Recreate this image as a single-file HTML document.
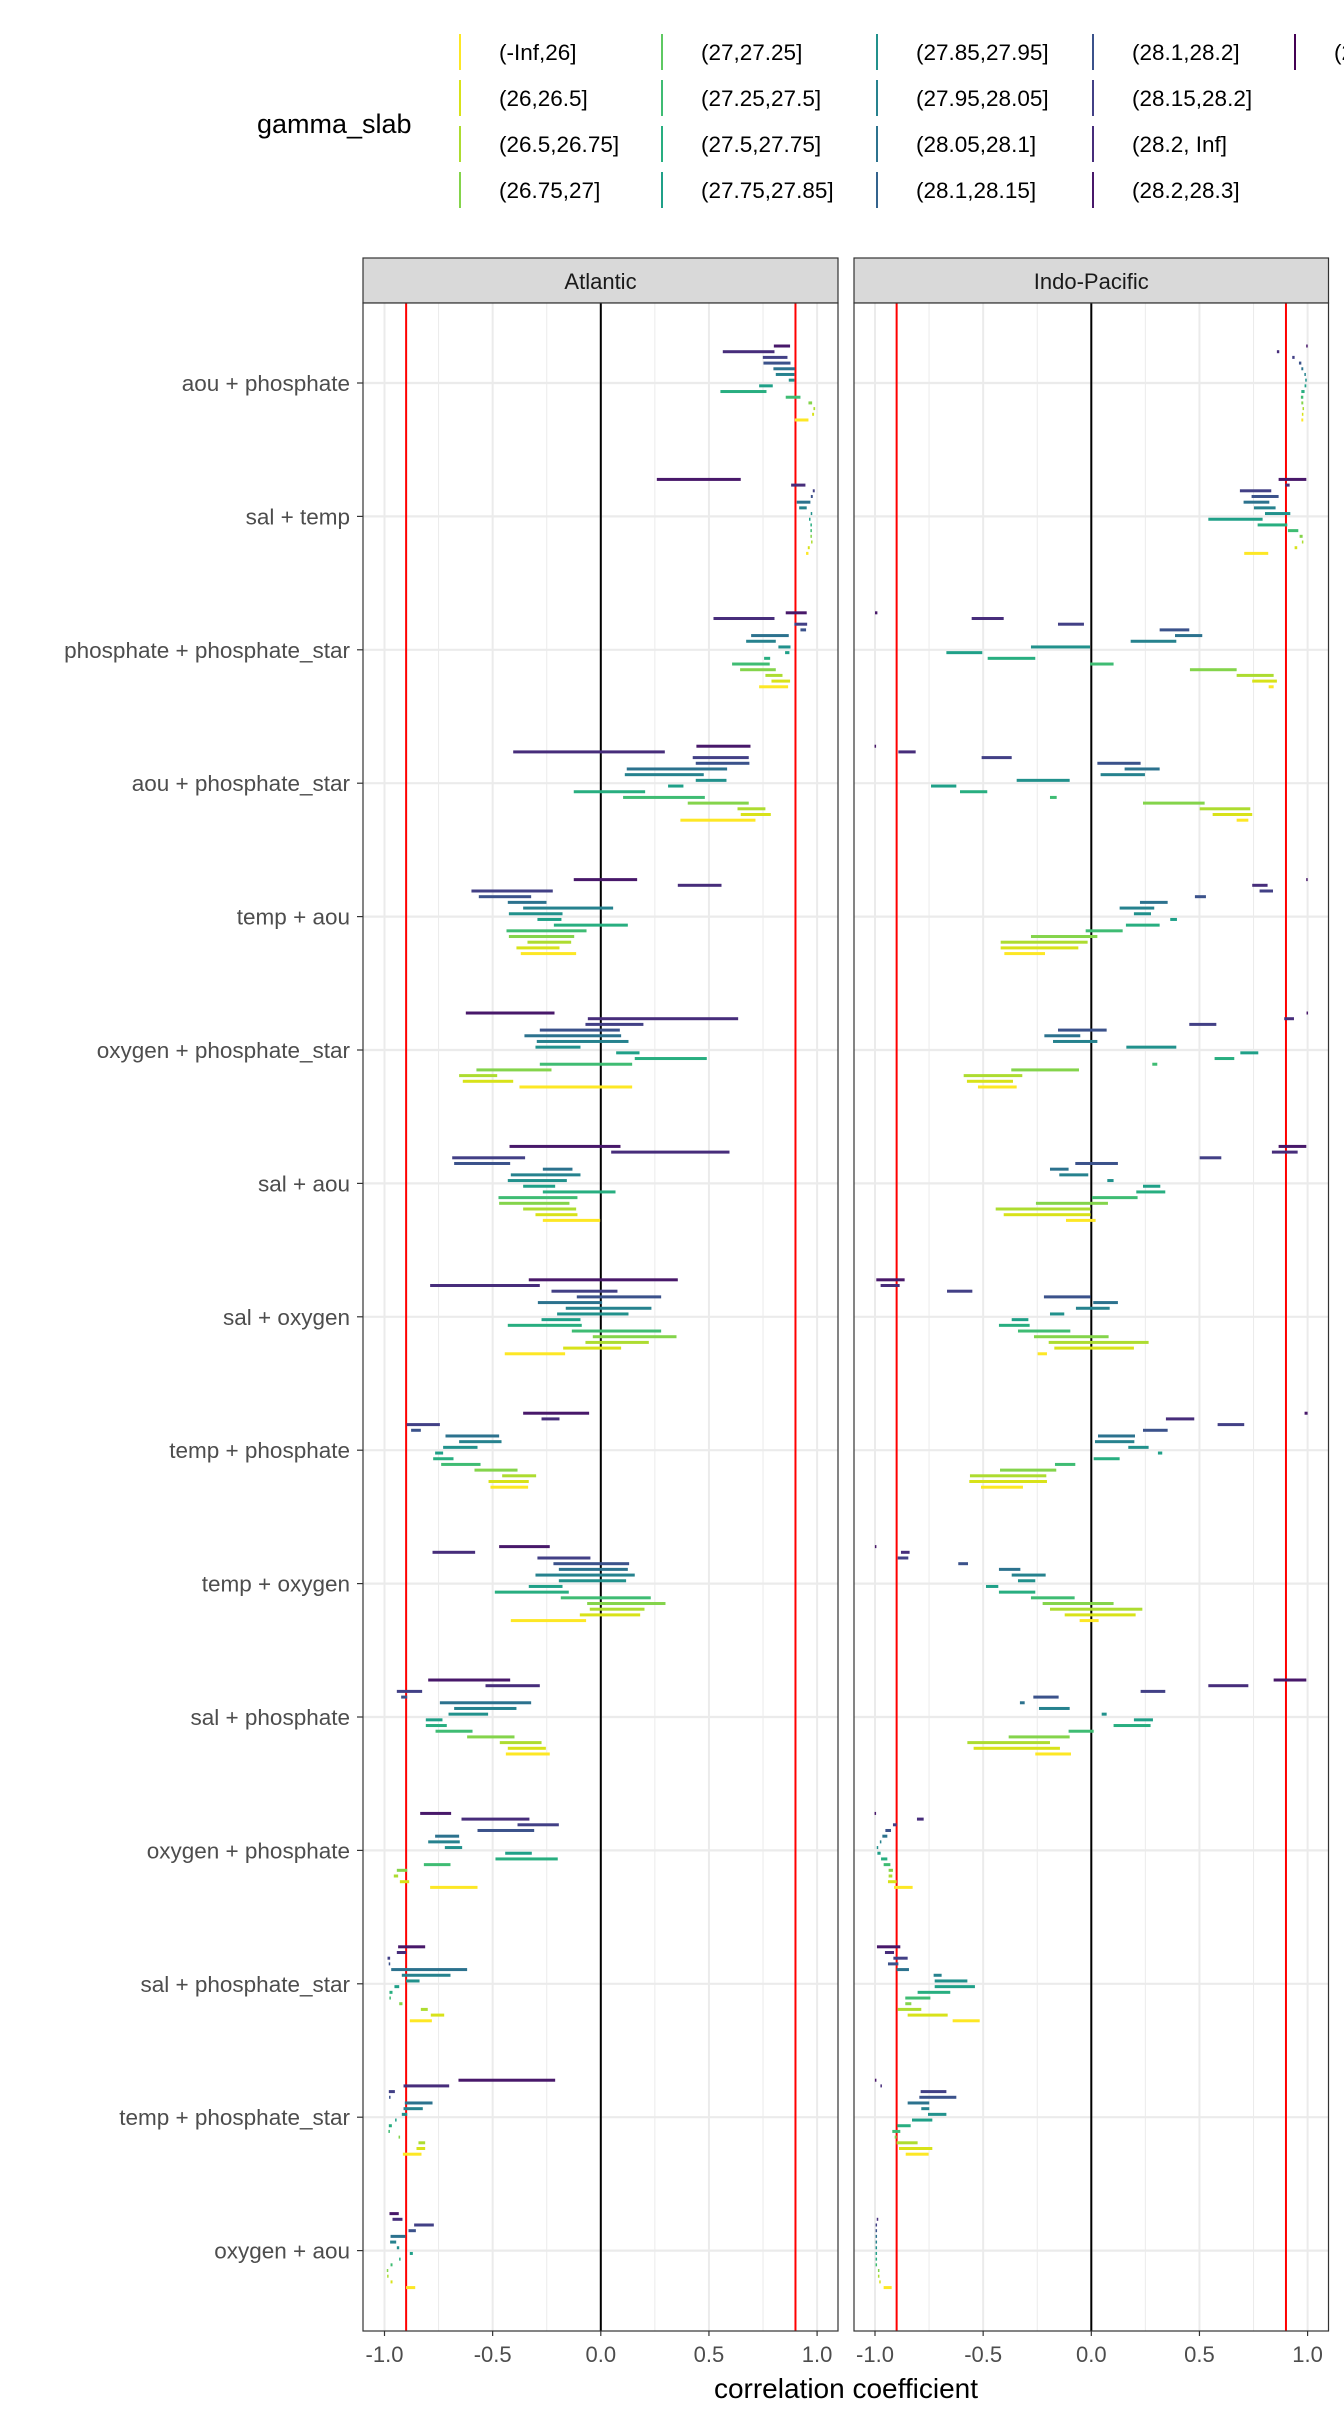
<!DOCTYPE html>
<html><head><meta charset="utf-8"><style>
html,body{margin:0;padding:0;background:#fff;}
svg{display:block;font-family:"Liberation Sans",Arial,sans-serif;}
</style></head><body>
<svg id="chart" width="1344" height="2419" viewBox="0 0 1344 2419" xmlns="http://www.w3.org/2000/svg"></svg>
<script>
const categories = ["aou + phosphate","sal + temp","phosphate + phosphate_star","aou + phosphate_star","temp + aou","oxygen + phosphate_star","sal + aou","sal + oxygen","temp + phosphate","temp + oxygen","sal + phosphate","oxygen + phosphate","sal + phosphate_star","temp + phosphate_star","oxygen + aou"];
const facets = ["Atlantic","Indo-Pacific"];
const xTicks = [-1,-0.5,0,0.5,1];
const xTickLabels = ["-1.0","-0.5","0.0","0.5","1.0"];
const refLines = [-0.9,0.9];
const legendLabels = ["(-Inf,26]","(26,26.5]","(26.5,26.75]","(26.75,27]","(27,27.25]","(27.25,27.5]","(27.5,27.75]","(27.75,27.85]","(27.85,27.95]","(27.95,28.05]","(28.05,28.1]","(28.1,28.15]","(28.1,28.2]","(28.15,28.2]","(28.2, Inf]","(28.2,28.3]","(28.3, Inf]"];
const viridis = ["#440154","#48186a","#472d7b","#424086","#3b528b","#33638d","#2c728e","#26828e","#21918c","#1fa088","#28ae80","#3fbc73","#5ec962","#84d44b","#addc30","#d8e219","#fde725"];
// ranges per category, rows listed top (darkest slab) to bottom (lightest slab)
const atlantic = [
[[.80,.875],[.564,.803],[.749,.863],[.752,.877],[.798,.897],[.809,.895],[.869,.895],[.732,.795],[.553,.766],[.855,.923],[.96,.977],[.983,.991],[.977,.986],[.897,.96]],
[[.259,.647],[.88,.946],[.98,.989],[.971,.98],[.906,.969],[.917,.952],[.971,.977],[.963,.969],[.971,.974],[.971,.974],[.971,.974],[.974,.977],[.957,.966],[.949,.96]],
[[.855,.952],[.521,.803],[.895,.954],[.923,.949],[.695,.869],[.672,.809],[.821,.877],[.852,.872],[.755,.783],[.607,.781],[.644,.809],[.761,.84],[.789,.875],[.732,.866]],
[[.442,.692],[-.405,.296],[.425,.684],[.439,.687],[.12,.584],[.111,.476],[.439,.581],[.311,.382],[-.125,.205],[.103,.481],[.402,.684],[.632,.761],[.647,.786],[.368,.715]],
[[-.125,.168],[.356,.558],[-.598,-.222],[-.564,-.322],[-.43,-.251],[-.359,.057],[-.425,-.177],[-.293,-.182],[-.217,.125],[-.436,-.066],[-.425,-.123],[-.339,-.137],[-.39,-.191],[-.37,-.114]],
[[-.624,-.214],[-.06,.635],[-.071,.197],[-.282,.088],[-.353,.094],[-.296,.128],[-.302,-.094],[.071,.179],[.157,.49],[-.282,.145],[-.575,-.228],[-.655,-.479],[-.638,-.405],[-.376,.145]],
[[-.422,.091],[.048,.595],[-.687,-.35],[-.678,-.419],[-.268,-.131],[-.416,-.094],[-.43,-.157],[-.359,-.211],[-.268,.068],[-.473,-.108],[-.47,-.145],[-.359,-.114],[-.302,-.108],[-.268,-.003]],
[[-.333,.356],[-.789,-.282],[-.228,.077],[-.111,.279],[-.291,.006],[-.162,.234],[-.202,.128],[-.274,-.094],[-.43,-.088],[-.134,.279],[-.037,.35],[-.071,.222],[-.174,.094],[-.444,-.165]],
[[-.359,-.054],[-.274,-.191],[-.897,-.744],[-.877,-.832],[-.718,-.47],[-.655,-.459],[-.729,-.57],[-.766,-.729],[-.775,-.681],[-.738,-.556],[-.584,-.385],[-.456,-.299],[-.519,-.333],[-.51,-.336]],
[[-.47,-.236],[-.778,-.581],[-.293,-.048],[-.219,.131],[-.194,.125],[-.302,.157],[-.194,.117],[-.333,-.177],[-.49,-.148],[-.185,.231],[-.063,.299],[-.051,.202],[-.097,.182],[-.416,-.068]],
[[-.798,-.419],[-.533,-.282],[-.943,-.826],[-.923,-.895],[-.744,-.322],[-.678,-.39],[-.704,-.521],[-.809,-.732],[-.809,-.712],[-.764,-.593],[-.618,-.399],[-.467,-.274],[-.43,-.254],[-.439,-.236]],
[[-.835,-.692],[-.644,-.33],[-.385,-.194],[-.57,-.308],[-.766,-.655],[-.798,-.652],[-.721,-.641],[-.442,-.319],[-.487,-.199],[-.818,-.695],[-.943,-.895],[-.957,-.937],[-.929,-.886],[-.789,-.57]],
[[-.937,-.812],[-.943,-.9],[-.986,-.974],[-.98,-.974],[-.969,-.618],[-.92,-.695],[-.9,-.838],[-.954,-.932],[-.977,-.963],[-.977,-.971],[-.932,-.917],[-.832,-.8],[-.786,-.724],[-.883,-.781]],
[[-.658,-.211],[-.912,-.701],[-.98,-.952],[-.977,-.974],[-.906,-.778],[-.912,-.823],[-.92,-.895],[-.949,-.946],[-.98,-.966],[-.98,-.977],[-.934,-.929],[-.843,-.812],[-.852,-.812],[-.915,-.829]],
[[-.977,-.934],[-.963,-.917],[-.863,-.772],[-.889,-.855],[-.972,-.903],[-.974,-.946],[-.943,-.932],[-.883,-.869],[-.932,-.926],[-.972,-.963],[-.989,-.983],[-.986,-.983],[-.972,-.963],[-.9,-.858]]
];
const indoPacific = [
[[.994,1],[.858,.869],[.929,.94],[.96,.971],[.971,.98],[.986,.991],[.991,.994],[.986,.994],[.971,.986],[.969,.98],[.971,.98],[.977,.983],[.974,.98],[.971,.98]],
[[.866,.994],[.897,.917],[.687,.832],[.741,.866],[.704,.823],[.752,.852],[.803,.92],[.541,.792],[.769,.906],[.909,.957],[.963,.977],[.974,.98],[.94,.952],[.707,.818]],
[[-1,-.989],[-.553,-.405],[-.154,-.034],[.316,.453],[.387,.513],[.182,.393],[-.279,-.006],[-.67,-.504],[-.479,-.259],[-.006,.103],[.456,.672],[.672,.843],[.744,.858],[.82,.843]],
[[-1,-.997],[-.892,-.812],[-.507,-.368],[.028,.228],[.154,.316],[.043,.248],[-.345,-.1],[-.741,-.624],[-.607,-.481],[-.191,-.16],[.239,.524],[.501,.735],[.561,.744],[.672,.726]],
[[.994,1],[.744,.815],[.778,.84],[.479,.53],[.225,.353],[.131,.291],[.197,.276],[.365,.396],[.16,.316],[-.026,.145],[-.279,.028],[-.419,-.017],[-.419,-.06],[-.402,-.214]],
[[.997,1],[.892,.937],[.453,.578],[-.154,.071],[-.217,-.051],[-.177,.028],[.162,.393],[.689,.772],[.57,.661],[.282,.305],[-.37,-.057],[-.59,-.319],[-.575,-.362],[-.524,-.345]],
[[.866,.994],[.835,.954],[.501,.601],[-.074,.123],[-.191,-.105],[-.148,-.014],[.074,.103],[.239,.319],[.208,.342],[.003,.214],[-.256,.077],[-.442,-.003],[-.405,-.003],[-.117,.02]],
[[-.994,-.863],[-.974,-.886],[-.667,-.55],[-.219,-.003],[.009,.123],[-.071,.085],[-.191,-.125],[-.368,-.291],[-.427,-.285],[-.339,-.097],[-.265,.08],[-.197,.265],[-.171,.197],[-.248,-.205]],
[[.986,1],[.345,.476],[.584,.707],[.239,.353],[.031,.202],[.017,.199],[.171,.265],[.308,.328],[.011,.131],[-.168,-.074],[-.422,-.162],[-.561,-.208],[-.564,-.205],[-.51,-.316]],
[[-1,-.994],[-.88,-.84],[-.895,-.846],[-.615,-.57],[-.427,-.328],[-.368,-.211],[-.339,-.259],[-.487,-.43],[-.427,-.259],[-.279,-.077],[-.225,.103],[-.191,.236],[-.123,.205],[-.054,.034]],
[[.843,.994],[.541,.726],[.228,.342],[-.268,-.151],[-.33,-.308],[-.242,-.1],[.048,.071],[.197,.285],[.103,.274],[-.105,.011],[-.382,-.1],[-.573,-.191],[-.544,-.145],[-.259,-.094]],
[[-1,-.997],[-.806,-.775],[-.917,-.9],[-.952,-.926],[-.966,-.943],[-.977,-.971],[-.991,-.986],[-.989,-.974],[-.972,-.943],[-.96,-.929],[-.937,-.917],[-.937,-.92],[-.94,-.9],[-.912,-.826]],
[[-.991,-.883],[-.954,-.912],[-.915,-.849],[-.94,-.892],[-.9,-.843],[-.729,-.692],[-.724,-.573],[-.724,-.538],[-.803,-.652],[-.86,-.744],[-.86,-.832],[-.895,-.786],[-.849,-.664],[-.641,-.516]],
[[-1,-.994],[-.974,-.969],[-.789,-.67],[-.795,-.624],[-.849,-.749],[-.786,-.749],[-.755,-.67],[-.829,-.735],[-.897,-.835],[-.92,-.883],[-.909,-.9],[-.9,-.803],[-.889,-.735],[-.858,-.752]],
[null,[-.991,-.986],[-.997,-.991],[-.997,-.991],[-.997,-.991],[-.997,-.991],[-.997,-.991],[-.997,-.991],[-.997,-.991],[-.997,-.991],[-.986,-.98],[-.986,-.98],[-.98,-.974],[-.96,-.923]]
];
const facetData = [atlantic, indoPacific];

const NS = "http://www.w3.org/2000/svg";
const svg = document.getElementById("chart");
function mk(tag, attrs, parent){ const e=document.createElementNS(NS,tag); for(const k in attrs) e.setAttribute(k,attrs[k]); (parent||svg).appendChild(e); return e; }

const panelTop=303, panelBottom=2331;
const panels=[{x0:363,x1:838,zero:600.8},{x0:854,x1:1328.5,zero:1091.3}];
const unit=216.3;
const catY0=383, catStep=133.4, rowStep=5.69, nRows=14;
function xScale(p,v){ return panels[p].zero + v*unit; }
function yCat(i){ return catY0 + i*catStep; }
function yRow(i,t){ return yCat(i) + (t-(nRows-1)/2)*rowStep; }
function rowColor(t){ const k=nRows-1-t; return viridis[16-Math.round(k*15/(nRows-1))]; }

// legend
const lg=mk("g",{});


const lt=mk("text",{x:257,y:133,"font-size":27,fill:"#000"},lg); lt.textContent="gamma_slab";


const colX=[460,662,877,1093,1295], rowYs=[52,98,144,190];
legendLabels.forEach((lab,i)=>{
  const c=Math.floor(i/4), r=i%4;
  const g=mk("g",{},lg);
  
  
  mk("line",{x1:colX[c],x2:colX[c],y1:rowYs[r]-18,y2:rowYs[r]+18,stroke:viridis[16-i],"stroke-width":2},g);
  const t=mk("text",{x:colX[c]+39,y:rowYs[r]+8,"font-size":22.5,fill:"#000"},g); t.textContent=lab;
});

// panels
panels.forEach((p,pi)=>{
  const g=mk("g",{});
  
  
  const s=mk("rect",{x:p.x0,y:258,width:p.x1-p.x0,height:45,fill:"#d9d9d9",stroke:"#333","stroke-width":1.2},g);
  
  
  const st=mk("text",{x:(p.x0+p.x1)/2,y:289,"font-size":22,fill:"#1a1a1a","text-anchor":"middle"},g);
  st.textContent=facets[pi];
  
  
  mk("rect",{x:p.x0,y:panelTop,width:p.x1-p.x0,height:panelBottom-panelTop,fill:"#fff"},g);
  [-0.75,-0.25,0.25,0.75].forEach(v=>mk("line",{x1:xScale(pi,v),x2:xScale(pi,v),y1:panelTop,y2:panelBottom,stroke:"#ebebeb","stroke-width":1},g));
  xTicks.forEach(v=>mk("line",{x1:xScale(pi,v),x2:xScale(pi,v),y1:panelTop,y2:panelBottom,stroke:"#ebebeb","stroke-width":2},g));
  categories.forEach((c,i)=>mk("line",{x1:p.x0,x2:p.x1,y1:yCat(i),y2:yCat(i),stroke:"#ebebeb","stroke-width":2.2},g));
  const z=mk("line",{x1:xScale(pi,0),x2:xScale(pi,0),y1:panelTop,y2:panelBottom,stroke:"#000","stroke-width":2},g);
  
  
  refLines.forEach(v=>{
    const r=mk("line",{x1:xScale(pi,v),x2:xScale(pi,v),y1:panelTop,y2:panelBottom,stroke:"#ff0000","stroke-width":2},g);
    
    
  });
  facetData[pi].forEach((rows,i)=>{
    rows.forEach((d,t)=>{
      if(!d) return;
      let a=xScale(pi,d[0]), b=xScale(pi,d[1]);
      if(b-a<1.5){ const m=(a+b)/2; a=m-0.75; b=m+0.75; }
      const bar=mk("rect",{x:a,y:yRow(i,t)-1.5,width:b-a,height:3,fill:rowColor(t)},g);
      
      
    });
  });
  mk("rect",{x:p.x0,y:panelTop,width:p.x1-p.x0,height:panelBottom-panelTop,fill:"none",stroke:"#333","stroke-width":1.2},g);
  xTicks.forEach((v,k)=>{
    mk("line",{x1:xScale(pi,v),x2:xScale(pi,v),y1:panelBottom,y2:panelBottom+5,stroke:"#333","stroke-width":1.2},g);
    const tl=mk("text",{x:xScale(pi,v),y:panelBottom+31,"font-size":22,fill:"#4d4d4d","text-anchor":"middle"},g);
    tl.textContent=xTickLabels[k];
    
    
  });
});

categories.forEach((c,i)=>{
  mk("line",{x1:357,x2:363,y1:yCat(i),y2:yCat(i),stroke:"#333","stroke-width":1.2});
  const t=mk("text",{x:350,y:yCat(i)+8,"font-size":22.5,fill:"#4d4d4d","text-anchor":"end"});
  t.textContent=c;
  
  
});
const xt=mk("text",{x:846,y:2398,"font-size":28,fill:"#000","text-anchor":"middle"});
xt.textContent="correlation coefficient";


</script>
</body></html>
